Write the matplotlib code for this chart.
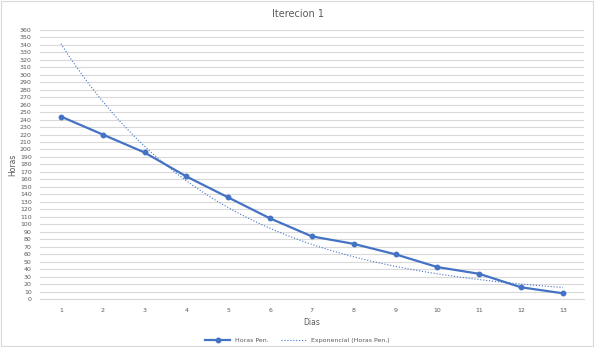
import numpy as np
import matplotlib.pyplot as plt
from matplotlib.patches import Rectangle

# data
dias = [1, 2, 3, 4, 5, 6, 7, 8, 9, 10, 11, 12, 13]
horas_pen = [244, 220, 196, 164, 136, 108, 84, 74, 60, 43, 34, 16, 8]
yticks = list(range(0, 361, 10))

title = 'Iterecion 1'
xlabel = 'Dias'
ylabel = 'Horas'
serie = 'Horas Pen.'
trend = 'Exponencial (Horas Pen.)'

blue = '#4472C4'
grey = '#595959'
gridc = '#D9D9D9'

# exponential trendline, like excel: least squares on ln(y)
b, lna = np.polyfit(dias, np.log(horas_pen), 1)
xt = np.linspace(dias[0], dias[-1], 200)
yt = np.exp(lna + b * xt)

fig = plt.figure(figsize=(5.95, 3.47), dpi=100)
ax = fig.add_axes([0.0672, 0.1375, 0.914, 0.777])

ax.plot(xt, yt, ':', color=blue, lw=0.8, label=trend)
ax.plot(dias, horas_pen, '-o', color=blue, lw=1.6, ms=3.2, label=serie)

ax.set_xlim(0.5, 13.5)
ax.set_ylim(0, 360)
ax.set_xticks(dias)
ax.set_xticklabels([str(d) for d in dias])
ax.set_yticks(yticks)
ax.set_yticklabels([str(t) for t in yticks])
ax.tick_params(axis='both', length=0, labelsize=4.5, colors=grey, pad=6)
ax.grid(axis='y', color=gridc, lw=0.8)
ax.set_axisbelow(True)
for s in ['top', 'right', 'left']:
    ax.spines[s].set_visible(False)
ax.spines['bottom'].set_color(gridc)

ax.set_xlabel(xlabel, fontsize=5.5, color=grey, labelpad=4)
ax.set_ylabel(ylabel, fontsize=5.5, color=grey, labelpad=2)
fig.suptitle(title, fontsize=7, color=grey, y=0.975)

h, l = ax.get_legend_handles_labels()
fig.legend(h[::-1], l[::-1], loc='lower center', bbox_to_anchor=(0.5, -0.005),
           ncol=2, frameon=False, fontsize=4.5, labelcolor=grey,
           handlelength=4, columnspacing=2)

fig.patches.append(Rectangle((0.002, 0.003), 0.995, 0.993, transform=fig.transFigure,
                             fill=False, edgecolor=gridc, lw=0.8))

plt.savefig('out.png', dpi=100)
